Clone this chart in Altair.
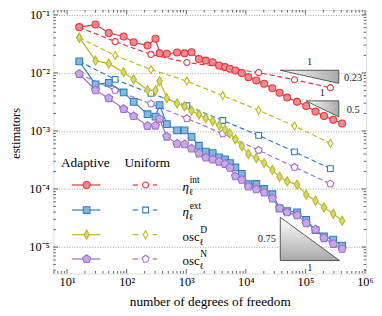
import altair as alt
import pandas as pd

# ---------------- data ----------------
adaptive_dofs = [16, 30, 50, 89, 131, 224, 304, 357, 472, 702, 937, 1225, 1630, 2128,
                 2780, 3560, 4475, 5410, 6680, 8560, 11040, 15000, 20330, 27870, 36810,
                 49420, 72290, 103000, 147500, 204700, 293000, 413000]
uniform_dofs = [16, 64, 256, 1024, 4096, 16384, 65536, 262144]

adapt_eta_int = [0.0613, 0.0679, 0.0485, 0.0424, 0.0336, 0.0295, 0.0388, 0.0218, 0.0213,
                 0.0224, 0.0217, 0.0226, 0.0173, 0.01627, 0.01529, 0.01338, 0.01257,
                 0.01176, 0.01096, 0.00998, 0.00843, 0.00741, 0.00649, 0.00542, 0.00456,
                 0.00375, 0.00317, 0.00268, 0.00215, 0.00181, 0.00155, 0.00134]
adapt_eta_ext = [0.0158, 0.00634, 0.00675, 0.00460, 0.00317, 0.00194, 0.00176, 0.00279,
                 0.00131, 0.00102, 0.00102, 0.000791, 0.000556, 0.000439, 0.000415,
                 0.000350, 0.000324, 0.000280, 0.000235, 0.000182, 0.000121, 0.000122,
                 0.000100, 0.0000811, 0.0000464, 0.0000417, 0.0000396, 0.0000293,
                 0.0000196, 0.0000153, 0.0000134, 0.0000106]
adapt_osc_D = [0.0404, 0.0162, 0.0144, 0.01026, 0.00771, 0.00507, 0.00501, 0.00721,
               0.00366, 0.00297, 0.00264, 0.00223, 0.00191, 0.00166, 0.00148, 0.00124,
               0.00106, 0.000907, 0.000717, 0.000545, 0.000399, 0.000341, 0.000280,
               0.000213, 0.000162, 0.000135, 0.000119, 0.0000802, 0.0000626, 0.0000482,
               0.0000374, 0.0000284]
adapt_osc_N = [0.0096, 0.00501, 0.00366, 0.00238, 0.00180, 0.00122, 0.00123, 0.00161,
               0.000797, 0.000601, 0.000590, 0.000498, 0.000410, 0.000348, 0.000322,
               0.000295, 0.000270, 0.000231, 0.000165, 0.000144, 0.000110, 0.0000987,
               0.0000867, 0.0000686, 0.0000464, 0.0000396, 0.0000352, 0.0000258,
               0.0000200, 0.0000142, 0.0000113, 0.0000093]

unif_eta_int = [0.0613, 0.0345, 0.0208, 0.0151, 0.0126, 0.0101, 0.0076, 0.00555]
unif_eta_ext = [0.0158, 0.00771, 0.00442, 0.00271, 0.00151, 0.000839, 0.000436, 0.000224]
unif_osc_D = [0.0404, 0.01995, 0.0114, 0.00721, 0.00406, 0.00227, 0.00121, 0.000613]
unif_osc_N = [0.0096, 0.00501, 0.00293, 0.00164, 0.000896, 0.000466, 0.000237, 0.000123]

estimators = ["int", "ext", "D", "N"]
adaptive = {"int": adapt_eta_int, "ext": adapt_eta_ext, "D": adapt_osc_D, "N": adapt_osc_N}
uniform = {"int": unif_eta_int, "ext": unif_eta_ext, "D": unif_osc_D, "N": unif_osc_N}
legend_base = {"int": "η", "ext": "η", "D": "osc", "N": "osc"}
legend_sup = {"int": "int", "ext": "ext", "D": "D", "N": "N"}

slope_rates = [0.23, 0.5, 0.75]
slope_labels = ["0.23", "0.5", "0.75"]

x_major = [1e1, 1e2, 1e3, 1e4, 1e5, 1e6]
y_major = [1e-1, 1e-2, 1e-3, 1e-4, 1e-5]

# ---------------- layout / style ----------------
FONT = "Liberation Serif"
FRAME = "#3a3a3a"
W, H = 317, 267
PAD_L, PAD_T = 46, 0
X_LOG_LO = 0.7699
X_DEC = 60.4
Y_LOG_HI = -0.9184
Y_DEC = 58.85
xlo = 10 ** X_LOG_LO
xhi = 10 ** (X_LOG_LO + W / X_DEC)
yhi = 10 ** Y_LOG_HI
ylo = 10 ** (Y_LOG_HI - H / Y_DEC)


def gx(px):  # page pixel -> data x (layout helper for annotations)
    return 10 ** (X_LOG_LO + (px - 8 - PAD_L) / X_DEC)


def gy(py):  # page pixel -> data y
    return 10 ** (Y_LOG_HI - (py - 8 - PAD_T) / Y_DEC)


x_minor = [k * 10.0 ** e for e in range(0, 6) for k in range(2, 10) if xlo <= k * 10.0 ** e <= xhi]
y_minor = [k * 10.0 ** e for e in range(-6, -1) for k in range(2, 10) if ylo <= k * 10.0 ** e <= yhi]

XS = alt.Scale(type="log", domain=[xlo, xhi], nice=False)
YS = alt.Scale(type="log", domain=[ylo, yhi], nice=False, zero=False)

SUP = "['⁰','¹','²','³','⁴','⁵','⁶']"
X = alt.X("x:Q", scale=XS, axis=alt.Axis(
    values=x_major, labelExpr="'10' + " + SUP + "[round(log(datum.value)/LN10)]",
    ticks=False, tickSize=0, domain=False, grid=False, labelPadding=2,
    labelFont=FONT, labelFontSize=12.5, labelColor="black", labelFlush=False,
    title="number of degrees of freedom", titleFont=FONT, titleFontSize=13.5,
    titleFontWeight="normal", titleColor="black", titleX=158.5, titleY=28,
    titleBaseline="middle", titleAlign="center"))
Y = alt.Y("y:Q", scale=YS, axis=alt.Axis(
    values=y_major, labelExpr="'10⁻' + " + SUP + "[round(-log(datum.value)/LN10)]",
    ticks=False, tickSize=0, domain=False, grid=True, gridDash=[1, 1.6],
    gridColor="#8c8c8c", gridWidth=0.8, labelPadding=4, labelFont=FONT,
    labelFontSize=12.5, labelColor="black", labelFlush=False, labelBaseline="middle",
    title="estimators", titleFont=FONT, titleFontSize=12.5, titleFontWeight="normal",
    titleColor="black", titleX=-34.5, titleY=124.5, titleAngle=270,
    titleBaseline="alphabetic", titleAlign="center"))

COL = {"int": ("#e2373e", "#f08a8e"), "ext": ("#2f7ebc", "#8ab5dc"),
       "D": ("#b9ba1f", "#d6d77c"), "N": ("#9b70c9", "#c6a9e4")}
DIAMOND = "M0,-1L0.6,0L0,1L-0.6,0Z"
PENTAGON = "M0,-1L0.951,-0.309L0.588,0.809L-0.588,0.809L-0.951,-0.309Z"
SHAPE = {"int": "circle", "ext": "square", "D": DIAMOND, "N": PENTAGON}
SIZE_A = {"int": 50, "ext": 46, "D": 85, "N": 75}
SIZE_U = {"int": 38, "ext": 34, "D": 64, "N": 56}

layers = []

# inward ticks on all four sides
for vals, L in ((x_major, 4.5), (x_minor, 2.5)):
    d = pd.DataFrame({"x": vals})
    base = alt.Chart(d).mark_rule(color=FRAME, strokeWidth=0.8)
    layers.append(base.encode(x=X, y=alt.value(H), y2=alt.value(H - L)))
    layers.append(base.encode(x=X, y=alt.value(0), y2=alt.value(L)))
for vals, L in ((y_major, 4.5), (y_minor, 2.5)):
    d = pd.DataFrame({"y": vals})
    base = alt.Chart(d).mark_rule(color=FRAME, strokeWidth=0.8)
    layers.append(base.encode(y=Y, x=alt.value(0), x2=alt.value(L)))
    layers.append(base.encode(y=Y, x=alt.value(W), x2=alt.value(W - L)))


def line_layer(df, est, dashed, detail=False):
    kw = dict(color=COL[est][0], strokeWidth=1.2)
    if dashed:
        kw["strokeDash"] = [5, 3]
    enc = dict(x=X, y=Y)
    if detail:
        enc["detail"] = "seg:N"
    return alt.Chart(df).mark_line(**kw).encode(**enc)


def point_layer(df, est, adaptive_kind):
    fill = COL[est][1] if adaptive_kind else "white"
    size = SIZE_A[est] if adaptive_kind else SIZE_U[est]
    return alt.Chart(df).mark_point(shape=SHAPE[est], size=size, filled=True, fill=fill,
                                    stroke=COL[est][0], strokeWidth=1.1, opacity=1,
                                    fillOpacity=1, strokeOpacity=1).encode(x=X, y=Y)


# uniform series first, then adaptive
for est in estimators:
    df = pd.DataFrame({"x": uniform_dofs, "y": uniform[est]})
    layers.append(line_layer(df, est, True))
    layers.append(point_layer(df, est, False))
for est in estimators:
    df = pd.DataFrame({"x": adaptive_dofs, "y": adaptive[est]})
    layers.append(line_layer(df, est, False))
    layers.append(point_layer(df, est, True))

# slope triangles
tri_geom = [(4.578, 5.560, -1.955, "top"), (5.008, 5.560, -2.482, "top"),
            (4.578, 5.571, -4.487, "bottom")]
grad_h = alt.Gradient(gradient="linear", stops=[alt.GradientStop(color="white", offset=0),
                                                alt.GradientStop(color="#a9a9a9", offset=1)],
                      x1=0, x2=1, y1=0, y2=0)
grad_v = alt.Gradient(gradient="linear", stops=[alt.GradientStop(color="white", offset=0),
                                                alt.GradientStop(color="#a9a9a9", offset=1)],
                      x1=0, x2=0, y1=0, y2=1)
lab_above, lab_right, lab_left, lab_below = [], [], [], []
for (lx0, lx1, ly0, kind), rate, lab in zip(tri_geom, slope_rates, slope_labels):
    ly1 = ly0 - rate * (lx1 - lx0)
    base_y = 10 ** ly0 if kind == "top" else 10 ** ly1
    d = pd.DataFrame({"x": [10 ** lx0, 10 ** lx1], "y": [10 ** ly0, 10 ** ly1],
                      "y2": [base_y, base_y]})
    layers.append(alt.Chart(d).mark_area(color=grad_h if kind == "top" else grad_v,
                                         stroke="#333333", strokeWidth=0.8, opacity=1)
                  .encode(x=X, y=Y, y2="y2:Q"))
    xm = 10 ** ((lx0 + lx1) / 2)
    ym = 10 ** ((ly0 + ly1) / 2)
    if kind == "top":
        lab_above.append({"x": xm, "y": 10 ** ly0, "t": "1"})
        lab_right.append({"x": 10 ** lx1, "y": ym, "t": lab})
    else:
        lab_left.append({"x": 10 ** lx0, "y": ym, "t": lab})
        lab_below.append({"x": xm, "y": 10 ** ly1, "t": "1"})

for rows, kw in ((lab_above, dict(align="center", dy=-8)),
                 (lab_right, dict(align="center", dx=14.5, dy=1)),
                 (lab_left, dict(align="right", dx=-4.4)),
                 (lab_below, dict(align="center", dy=7.5))):
    layers.append(alt.Chart(pd.DataFrame(rows)).mark_text(
        font=FONT, fontSize=10.5, baseline="middle", color="#222222", **kw)
        .encode(x=X, y=Y, text="t:N"))

# custom legend
row_py = [185.3, 210.7, 235.7, 260.3]
hdr = pd.DataFrame({"x": [gx(61.7), gx(126)], "y": [gy(163.3)] * 2,
                    "t": ["Adaptive", "Uniform"]})
layers.append(alt.Chart(hdr).mark_text(font=FONT, fontSize=13.5, align="left",
                                       baseline="middle", color="black")
              .encode(x=X, y=Y, text="t:N"))
for est, py in zip(estimators, row_py):
    la = pd.DataFrame({"x": [gx(72.7), gx(101.7)], "y": [gy(py)] * 2})
    layers.append(line_layer(la, est, False))
    layers.append(point_layer(pd.DataFrame({"x": [gx(87.7)], "y": [gy(py)]}), est, True))
    lu = pd.DataFrame({"x": [gx(134.3), gx(140.0), gx(154.8), gx(159.3)],
                       "y": [gy(py)] * 4, "seg": ["a", "a", "b", "b"]})
    layers.append(line_layer(lu, est, False, detail=True))
    layers.append(point_layer(pd.DataFrame({"x": [gx(147.5)], "y": [gy(py)]}), est, False))

    is_eta = legend_base[est] == "η"
    bw = 6.8 if is_eta else 17.5
    layers.append(alt.Chart(pd.DataFrame({"x": [gx(185)], "y": [gy(py + 2.5)],
                                          "t": [legend_base[est]]}))
                  .mark_text(font=FONT, fontSize=13, align="left", baseline="middle",
                             color="black", fontStyle="italic" if is_eta else "normal")
                  .encode(x=X, y=Y, text="t:N"))
    layers.append(alt.Chart(pd.DataFrame({"x": [gx(185 + bw + 0.4)], "y": [gy(py - 4.5)],
                                          "t": [legend_sup[est]]}))
                  .mark_text(font=FONT, fontSize=9.5, align="left", baseline="middle",
                             color="black")
                  .encode(x=X, y=Y, text="t:N"))
    layers.append(alt.Chart(pd.DataFrame({"x": [gx(185 + bw - 0.3)], "y": [gy(py + 7.5)],
                                          "t": ["ℓ"]}))
                  .mark_text(font=FONT, fontSize=9, align="left", baseline="middle",
                             color="black")
                  .encode(x=X, y=Y, text="t:N"))

chart = alt.layer(*layers).properties(
    width=W, height=H,
    autosize=alt.AutoSizeParams(type="none"),
    padding={"left": PAD_L, "top": PAD_T, "right": 8, "bottom": 40},
).configure_view(stroke=FRAME, strokeWidth=1).configure(background="white")

chart.save("out.html", embed_options={"renderer": "svg", "actions": False})
